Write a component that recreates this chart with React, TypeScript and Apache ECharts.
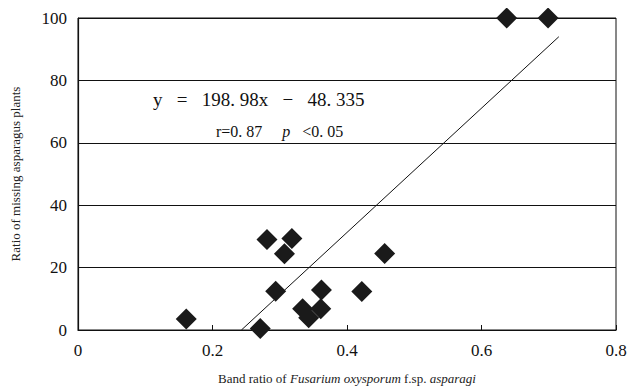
import React, { useEffect, useRef } from "react";
import * as echarts from "echarts";

const bandRatio = [0.161, 0.271, 0.281, 0.318, 0.307, 0.294, 0.362, 0.422, 0.334, 0.361, 0.343, 0.456, 0.6375, 0.699];
const missingRatio = [3.5, 0.5, 29, 29.3, 24.4, 12.4, 12.8, 12.3, 6.8, 6.8, 3.9, 24.5, 100, 100];
const fitLine = [[0.243, 0], [0.715, 94]];
const xTicks = [0, 0.2, 0.4, 0.6, 0.8];
const yTicks = [0, 20, 40, 60, 80, 100];

const FONT = "Liberation Serif";

export default function App() {
  const ref = useRef<HTMLDivElement>(null);
  useEffect(() => {
    if (!ref.current) return;
    const chart = echarts.init(ref.current, null, { renderer: "svg" });
    const points = bandRatio.map((x, i) => [x, missingRatio[i]]);
    chart.setOption({
      animation: false,
      backgroundColor: "#fff",
      grid: { left: 78, right: 25, top: 18, bottom: 57, show: true, borderColor: "#111", borderWidth: 1, backgroundColor: "transparent" },
      xAxis: {
        type: "value",
        min: xTicks[0],
        max: xTicks[xTicks.length - 1],
        interval: 0.2,
        axisLine: { show: true, lineStyle: { color: "#111", width: 1.2 } },
        axisTick: { show: true, inside: true, length: 5, lineStyle: { color: "#111" } },
        splitLine: { show: false },
        axisLabel: { color: "#111", fontFamily: FONT, fontSize: 17, margin: 12 },
        name: "{n|Band ratio of }{i|Fusarium oxysporum}{n| f.sp. }{i|asparagi}",
        nameLocation: "middle",
        nameGap: 42,
        nameTextStyle: {
          rich: {
            n: { fontFamily: FONT, fontSize: 13, color: "#222" },
            i: { fontFamily: FONT, fontSize: 13, color: "#222", fontStyle: "italic" },
          },
        },
      },
      yAxis: {
        type: "value",
        min: yTicks[0],
        max: yTicks[yTicks.length - 1],
        interval: 20,
        axisLine: { show: true, lineStyle: { color: "#111", width: 1.2 } },
        axisTick: { show: false },
        splitLine: { show: true, lineStyle: { color: "#111", width: 1 } },
        axisLabel: { color: "#111", fontFamily: FONT, fontSize: 17, margin: 11 },
        name: "Ratio of missing asparagus plants",
        nameLocation: "middle",
        nameRotate: 90,
        nameGap: 56,
        nameTextStyle: { fontFamily: FONT, fontSize: 13, color: "#222" },
      },
      series: [
        {
          type: "line",
          data: fitLine,
          symbol: "none",
          lineStyle: { color: "#111", width: 1 },
          silent: true,
          z: 3,
        },
        {
          type: "scatter",
          data: points,
          symbol: "diamond",
          symbolSize: 21,
          clip: false,
          itemStyle: { color: "#1a1a1a", opacity: 1 },
          z: 4,
        },
      ],
      graphic: [
        {
          type: "text",
          left: 153,
          top: 90,
          style: { text: "y   =   198. 98x   −   48. 335", font: `19px ${FONT}`, fill: "#111" },
        },
        {
          type: "text",
          left: 216,
          top: 123,
          style: {
            text: "{n|r=0. 87     }{i|p}{n|   <0. 05}",
            rich: {
              n: { fontFamily: FONT, fontSize: 16, fill: "#111" },
              i: { fontFamily: FONT, fontSize: 16, fontStyle: "italic", fill: "#111" },
            },
          },
        },
      ],
    });
    return () => chart.dispose();
  }, []);
  return <div ref={ref} style={{ width: 641, height: 390, marginLeft: -8, marginTop: -8 }} />;
}
